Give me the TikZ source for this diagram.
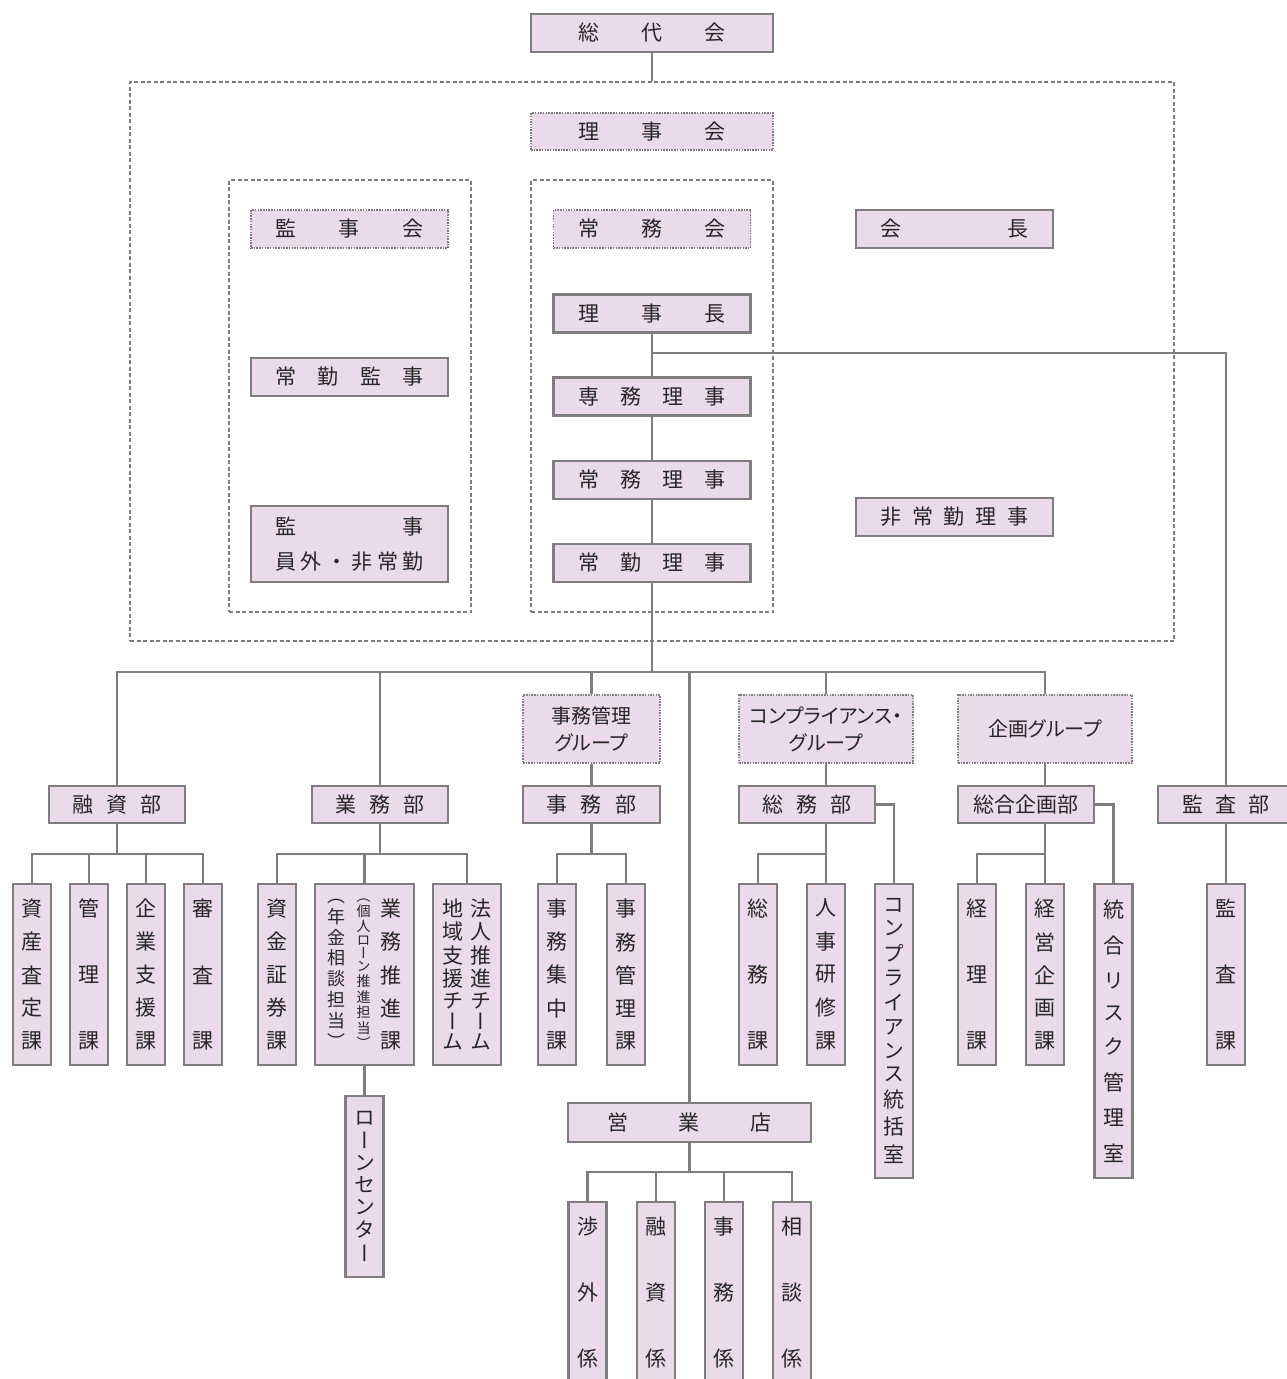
\documentclass[tikz,border=0pt]{standalone}
\usepackage{fontspec}
\setmainfont{Noto Sans CJK JP}
\newfontfamily\tatefont{Noto Sans CJK JP}[RawFeature=+vert]
\newfontfamily\kanafont{Noto Sans CJK JP}[RawFeature=+palt]
\usepackage{tikz}
\definecolor{Mauve}{HTML}{EBDAE9}
\definecolor{Rule}{HTML}{7E7E7E}
\definecolor{Ink}{HTML}{262626}
\makeatletter
\newcommand{\yoko}[2]{\hbox to #1{\let\yk@sep\relax
  \@tfor\yk@c:=#2\do{\yk@sep\yk@c\let\yk@sep\hfill}}}
\newcommand{\tate}[2]{\vbox to #1{\tatefont\offinterlineskip\let\yk@sep\relax
  \@tfor\yk@c:=#2\do{\yk@sep\hbox to 1em{\hss\yk@c\hss}\let\yk@sep\vfill}}}
\makeatother
\tikzset{
  unitbox/.style={rectangle, draw=Rule, fill=Mauve, line width=2.6pt,
                  minimum width=197pt, minimum height=38pt, inner sep=0pt,
                  font=\fontsize{21pt}{24pt}\selectfont, text=Ink},
  meetbox/.style={unitbox, line width=1.8pt, dash pattern=on 1.5pt off 1.2pt},
  groupbox/.style={meetbox, minimum width=#1, minimum height=68pt, align=center,
                  font=\fontsize{20pt}{27pt}\selectfont\kanafont},
  bubox/.style={unitbox, minimum width=136pt, minimum height=37pt},
  tatebox/.style={unitbox, minimum width=38pt, minimum height=#1},
  tatebox/.default=181pt,
  dashframe/.style={rectangle, draw=Rule, line width=2.2pt, dash pattern=on 4pt off 2.5pt,
                  minimum width=#1},
}

\begin{document}
\begin{tikzpicture}[
        x=1pt, y=-1pt,
        conn/.style={draw=Rule, line width=2.8pt}
      ]
        \useasboundingbox (0,0) rectangle (1287,1379);
        \node[dashframe=1044pt, minimum height=559pt] (zentai) at (652,361.5) {};
        \node[dashframe=242pt, minimum height=432pt] (kanjiwaku) at (350,396) {};
        \node[dashframe=242pt, minimum height=432pt] (rijiwaku) at (652,396) {};
        \node[unitbox, minimum width=242pt] (sodai) at (652,33) {\yoko{148pt}{総代会}};
        \node[meetbox, minimum width=242pt, minimum height=37pt] (rijikai) at (652,131.5) {\yoko{148pt}{理事会}};
        \node[meetbox] (kanjikai) at (349.5,229) {\yoko{148pt}{監事会}};
        \node[meetbox] (jomukai) at (652,229) {\yoko{148pt}{常務会}};
        \node[unitbox] (kaicho) at (954.5,229) {\yoko{148pt}{会長}};
        \node[unitbox] (rijicho) at (652,313.5) {\yoko{148pt}{理事長}};
        \node[unitbox] (jokinkanji) at (349.5,377) {\yoko{148pt}{常勤監事}};
        \node[unitbox] (senmu) at (652,396.5) {\yoko{148pt}{専務理事}};
        \node[unitbox] (jomuriji) at (652,480) {\yoko{148pt}{常務理事}};
        \node[unitbox] (hijokin) at (954.5,517) {\yoko{148pt}{非常勤理事}};
        \node[unitbox, minimum height=76pt, align=center, font=\fontsize{21pt}{35pt}\selectfont]
          (ingai) at (349.5,544) {\yoko{148pt}{監事}\\\yoko{148pt}{員外・非常勤}};
        \node[unitbox] (jokinriji) at (652,563) {\yoko{148pt}{常勤理事}};

        \node[groupbox=137pt] (jimukanrigr) at (591.5,729) {事務管理\\グループ};
        \node[groupbox=174pt] (compgr) at (826,729) {コンプライアンス・\\グループ};
        \node[groupbox=174pt] (kikakugr) at (1045,729) {企画グループ};

        \node[bubox] (yushibu) at (117,804.5) {\yoko{90pt}{融資部}};
        \node[bubox] (gyomubu) at (380,804.5) {\yoko{90pt}{業務部}};
        \node[bubox, minimum width=137pt] (jimubu) at (591.5,804.5) {\yoko{90pt}{事務部}};
        \node[bubox] (somubu) at (807,804.5) {\yoko{90pt}{総務部}};
        \node[bubox] (sogobu) at (1026,804.5) {総合企画部};
        \node[bubox] (kansabu) at (1226,804.5) {\yoko{87pt}{監査部}};

        \node[tatebox] (shisanka) at (32,974.5) {\tate{150pt}{資産査定課}};
        \node[tatebox] (kanrika) at (89,974.5) {\tate{150pt}{管理課}};
        \node[tatebox] (kigyoka) at (146,974.5) {\tate{150pt}{企業支援課}};
        \node[tatebox] (shinsaka) at (203,974.5) {\tate{150pt}{審査課}};
        \node[tatebox] (shikinka) at (277,974.5) {\tate{150pt}{資金証券課}};
        \node[tatebox, minimum width=99pt] (suishinka) at (364.5,974.5)
          {{\fontsize{18pt}{18pt}\selectfont\tate{150pt}{（年金相談担当）}}\hspace{11pt}%
           {\fontsize{14pt}{14pt}\selectfont\tate{150pt}{（個人ローン推進担当）}}\hspace{10pt}%
           \tate{150pt}{業務推進課}};
        \node[tatebox, minimum width=68pt] (hojin) at (467,974.5)
          {\tate{150pt}{地域支援チーム}\hspace{7pt}\tate{150pt}{法人推進チーム}};
        \node[tatebox] (shuchuka) at (557,974.5) {\tate{150pt}{事務集中課}};
        \node[tatebox] (jimukanrika) at (626,974.5) {\tate{150pt}{事務管理課}};
        \node[tatebox] (somuka) at (758,974.5) {\tate{150pt}{総務課}};
        \node[tatebox] (jinjika) at (826,974.5) {\tate{150pt}{人事研修課}};
        \node[tatebox=294pt] (compshitsu) at (894,1031) {\tate{264pt}{コンプライアンス統括室}};
        \node[tatebox] (keirika) at (977,974.5) {\tate{150pt}{経理課}};
        \node[tatebox] (keieika) at (1045,974.5) {\tate{150pt}{経営企画課}};
        \node[tatebox=294pt] (risukushitsu) at (1113.5,1031) {\tate{262pt}{統合リスク管理室}};
        \node[tatebox] (kansaka) at (1226,974.5) {\tate{150pt}{監査課}};
        \node[tatebox] (loancenter) at (364.5,1186.5) {\tate{150pt}{ローンセンター}};

        \node[unitbox, minimum width=243pt, minimum height=39pt] (eigyoten) at (689.5,1122.5) {\yoko{164pt}{営業店}};
        \node[tatebox] (shogaigakari) at (587.5,1292.5) {\tate{150pt}{渉外係}};
        \node[tatebox] (yushigakari) at (656,1292.5) {\tate{150pt}{融資係}};
        \node[tatebox] (jimugakari) at (724,1292.5) {\tate{150pt}{事務係}};
        \node[tatebox] (sodangakari) at (792,1292.5) {\tate{150pt}{相談係}};

        \coordinate (bunki) at (652,353);
        \coordinate (hon) at (652,672);
        \coordinate (yushiha) at (117,854);
        \coordinate (gyomuha) at (380,854);
        \coordinate (jimuha) at (591.5,854);
        \coordinate (somuha) at (826,854);
        \coordinate (kikakuha) at (1045,854);
        \coordinate (eigyoha) at (689.5,1172);

        \draw[conn] (sodai) -- (zentai.north);
        \draw[conn] (rijicho) -- (senmu);
        \draw[conn] (senmu) -- (jomuriji);
        \draw[conn] (jomuriji) -- (jokinriji);
        \draw[conn] (bunki) -| (kansabu);
        \draw[conn] (jokinriji) -- (hon);
        \draw[conn] (yushibu) |- (hon) -| (kikakugr);
        \draw[conn] (gyomubu) -- (gyomubu |- hon);
        \draw[conn] (jimukanrigr) -- (jimukanrigr |- hon);
        \draw[conn] (compgr) -- (compgr |- hon);
        \draw[conn] (eigyoten) -- (eigyoten |- hon);
        \draw[conn] (jimukanrigr) -- (jimubu);
        \draw[conn] (compgr.south) -- (compgr.south |- somubu.north);
        \draw[conn] (kikakugr.south) -- (kikakugr.south |- sogobu.north);

        \draw[conn] (yushibu) -- (yushiha);
        \draw[conn] (shisanka.north) |- (yushiha);
        \draw[conn] (kanrika.north) |- (yushiha);
        \draw[conn] (kigyoka.north) |- (yushiha);
        \draw[conn] (shinsaka.north) |- (yushiha);
        \draw[conn] (gyomubu) -- (gyomuha);
        \draw[conn] (shikinka.north) |- (gyomuha);
        \draw[conn] (suishinka.north) |- (gyomuha);
        \draw[conn] (hojin.north) |- (gyomuha);
        \draw[conn] (suishinka) -- (loancenter);
        \draw[conn] (jimubu) -- (jimuha);
        \draw[conn] (shuchuka.north) |- (jimuha);
        \draw[conn] (jimukanrika.north) |- (jimuha);
        \draw[conn] (somubu.south -| somuha) -- (jinjika);
        \draw[conn] (somuka.north) |- (somuha);
        \draw[conn] (somubu.east) -| (compshitsu);
        \draw[conn] (sogobu.south -| kikakuha) -- (keieika);
        \draw[conn] (keirika.north) |- (kikakuha);
        \draw[conn] (sogobu.east) -| (risukushitsu);
        \draw[conn] (kansabu) -- (kansaka);
        \draw[conn] (eigyoten) -- (eigyoha);
        \draw[conn] (shogaigakari.north) |- (eigyoha);
        \draw[conn] (yushigakari.north) |- (eigyoha);
        \draw[conn] (jimugakari.north) |- (eigyoha);
        \draw[conn] (sodangakari.north) |- (eigyoha);
      \end{tikzpicture}
\end{document}
